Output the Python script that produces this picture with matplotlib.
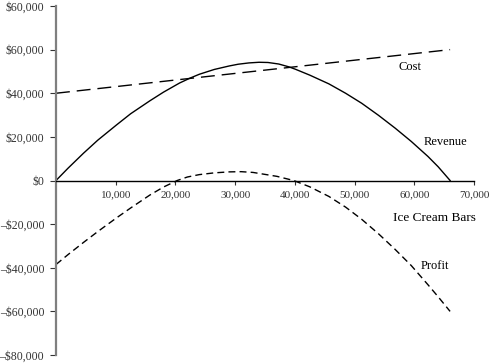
"""Ice cream bars: cost, revenue and profit curves"""

import matplotlib
matplotlib.use("Agg")
import matplotlib.pyplot as plt

plt.rcParams["font.family"] = ["Liberation Serif", "DejaVu Serif"]

# values
bars = [0, 2000, 4600, 7000, 10100, 12500, 15700, 18000, 20700, 22500,
        24000, 26500, 29000, 30500, 32300, 34000, 35500, 37300, 39000,
        40100, 42500, 45700, 48500, 51200, 54000, 56800, 59500, 62300,
        64000, 66000]
revenue = [0, 5600, 12500, 18500, 25400, 30600, 36500, 40500, 44700, 47000,
           48700, 50900, 52500, 53300, 53900, 54200, 54100, 53400, 52100,
           51000, 48300, 44300, 40000, 35400, 29900, 24000, 17900, 11000,
           6300, 0]

cost_bars = [0, 66000]
cost = [40000, 60000]

profit_bars = [0, 2000, 4600, 7000, 10100, 12500, 15700, 18000, 20300,
               22000, 24000, 26500, 29000, 31000, 33000, 35000, 37000,
               39800, 42500, 45700, 48500, 51200, 54000, 56800, 59500,
               62300, 64000, 66000]
profit = [-38500, -34000, -28400, -23400, -17200, -12600, -6700, -3000, 0,
          1600, 2700, 3500, 3950, 4050, 3700, 2800, 1900, 0, -2900, -7300,
          -12200, -17800, -24400, -31600, -39000, -47800, -53300, -60000]

x_ticks = [10000, 20000, 30000, 40000, 50000, 60000, 70000]
x_labels = ["10,000", "20,000", "30,000", "40,000", "50,000", "60,000", "70,000"]
y_ticks = [80000, 60000, 40000, 20000, 0, -20000, -40000, -60000, -80000]
y_labels = ["$60,000", "$60,000", "$40,000", "$20,000", "$0",
            "\u2013$20,000", "\u2013$40,000", "\u2013$60,000", "\u2013$80,000"]

fig = plt.figure(figsize=(4.9, 3.63), dpi=100)
ax = fig.add_axes([0.1143, 0.022, 0.853, 0.9615])

ax.plot(bars, revenue, color="black", lw=1.0)
ax.plot(cost_bars, cost, color="black", lw=1.0, dashes=(10, 5))
ax.plot(profit_bars, profit, color="black", lw=1.0, dashes=(5, 3))

ax.set_xlim(0, 70000)
ax.set_ylim(-80000, 80000)

ax.spines["top"].set_visible(False)
ax.spines["right"].set_visible(False)
ax.spines["bottom"].set_position(("data", 0))
ax.spines["bottom"].set_linewidth(1.0)
ax.spines["left"].set_color("#7f7f7f")
ax.spines["left"].set_linewidth(1.6)

ax.set_xticks(x_ticks)
ax.set_xticklabels(x_labels)
ax.set_yticks(y_ticks)
ax.set_yticklabels(y_labels)
ax.tick_params(axis="x", direction="out", length=3, width=0.8, pad=4,
               labelsize=8, colors="#333333")
ax.tick_params(axis="y", direction="out", length=4.5, width=0.8, pad=4,
               labelsize=8.5, colors="#333333")
for t in ax.get_xticklines() + ax.get_yticklines():
    t.set_color("black")

ax.text(59300, 52200, "Cost", ha="center", va="center", fontsize=9)
ax.text(65300, 17600, "Revenue", ha="center", va="center", fontsize=9)
ax.text(63500, -39300, "Profit", ha="center", va="center", fontsize=9)
ax.text(63300, -17400, "Ice Cream Bars", ha="center", va="center", fontsize=9.5)

fig.savefig("out.png", dpi=100)
